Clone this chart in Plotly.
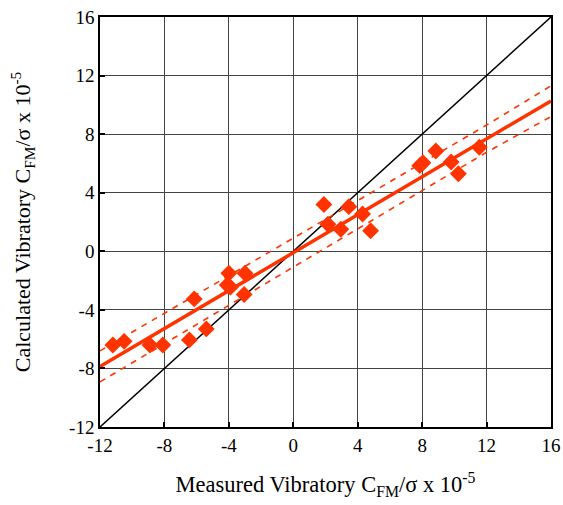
import plotly.graph_objects as go

# Measured vs calculated data points
measured = [-11.2, -10.5, -8.9, -8.1, -6.45, -5.4, -6.15, -4.0, -4.1, -3.9, -3.0, -3.05,
            1.9, 2.15, 2.95, 3.45, 4.3, 4.8, 7.85, 8.05, 8.85, 9.8, 10.25, 11.55]
calculated = [-6.4, -6.15, -6.4, -6.4, -6.05, -5.3, -3.25, -1.5, -2.3, -2.45, -1.5, -2.95,
              3.2, 1.85, 1.5, 3.05, 2.55, 1.4, 5.85, 6.05, 6.85, 6.1, 5.3, 7.1]

# 1:1 reference line
ref_x = [-12, 16]
ref_y = [-12, 16]

# Fit line
fit_x = [-12, 16]
fit_y = [-7.87, 10.27]

# Confidence bands
band_x = [-12, -8, -4, 0, 4, 8, 12, 16]
band_upper = [-6.8, -4.22, -1.66, 0.9, 3.46, 6.04, 8.62, 11.3]
band_lower = [-8.92, -6.3, -3.68, -1.06, 1.56, 4.16, 6.76, 9.2]

tick_vals = [-12, -8, -4, 0, 4, 8, 12, 16]
tick_text = ["-12", "-8", "-4", "0", "4", "8", "12", "16"]

red = "#FF3300"

fig = go.Figure()
fig.add_trace(go.Scatter(x=ref_x, y=ref_y, mode="lines",
                         line=dict(color="black", width=1.5), showlegend=False))
fig.add_trace(go.Scatter(x=band_x, y=band_upper, mode="lines",
                         line=dict(color=red, width=1.6, dash="6px,6px"), showlegend=False))
fig.add_trace(go.Scatter(x=band_x, y=band_lower, mode="lines",
                         line=dict(color=red, width=1.6, dash="6px,6px"), showlegend=False))
fig.add_trace(go.Scatter(x=fit_x, y=fit_y, mode="lines",
                         line=dict(color=red, width=3.5), showlegend=False))
fig.add_trace(go.Scatter(x=measured, y=calculated, mode="markers",
                         marker=dict(symbol="diamond", size=13, color=red,
                                     line=dict(width=0)), showlegend=False))

font = "Liberation Serif, Times New Roman, serif"
fig.update_layout(
    width=563, height=505,
    margin=dict(l=100, r=12, t=17, b=78, autoexpand=False),
    plot_bgcolor="white", paper_bgcolor="white",
    font=dict(family=font, size=19, color="black"),
)
axis_common = dict(
    showgrid=True, gridcolor="#444", gridwidth=1,
    showline=True, linecolor="black", linewidth=1.5, mirror=True,
    ticks="inside", ticklen=5, tickwidth=1.5, tickcolor="black",
    zeroline=False, tickfont=dict(family=font, size=19, color="black"),
    automargin=False, tickvals=tick_vals, ticktext=tick_text,
)
fig.update_xaxes(range=[-12, 16],
                 title=dict(text="Measured Vibratory C<sub>FM</sub>/σ x 10<sup>-5</sup>",
                            font=dict(family=font, size=22.5), standoff=22),
                 **axis_common)
fig.update_yaxes(range=[-12, 16],
                 title=dict(text="Calculated Vibratory C<sub>FM</sub>/σ x 10<sup>-5</sup>",
                            font=dict(family=font, size=22), standoff=32),
                 **axis_common)

fig.write_html("out.html")
